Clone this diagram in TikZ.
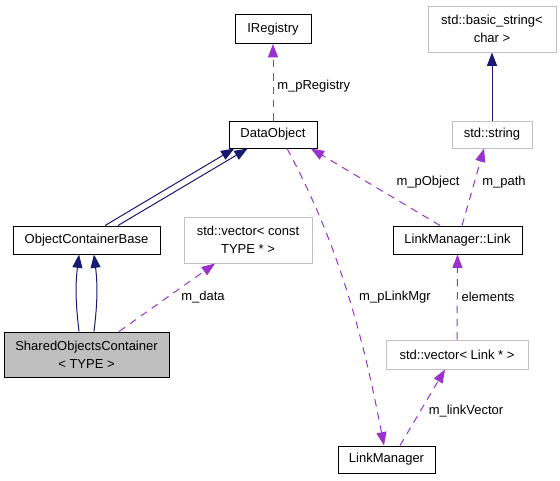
\documentclass[tikz,border=0pt]{standalone}
\usepackage{fontspec}
\setmainfont{Liberation Sans}
\usetikzlibrary{arrows.meta}
\definecolor{purp}{HTML}{9A32CD}
\definecolor{navyb}{HTML}{191970}
\definecolor{grayb}{HTML}{BFBFBF}
\tikzset{
  cls/.style={draw=black, fill=white, line width=0.75pt, inner sep=0pt, align=center,
    font=\fontsize{9.75}{13.5}\selectfont},
  ext/.style={cls, draw=grayb},
  mainc/.style={cls, fill=grayb},
  usage/.style={draw=purp, line width=0.75pt, dash pattern=on 5.5pt off 4.5pt,
    -{Triangle[length=10pt,width=7.5pt,fill=purp]}},
  inherit/.style={draw=navyb, line width=0.75pt,
    -{Triangle[length=10pt,width=7.5pt,fill=navyb]}},
  lbl/.style={inner sep=0pt, font=\fontsize{9.75}{13.5}\selectfont}
}
\begin{document}
\begin{tikzpicture}[x=0.75pt,y=-0.75pt]
\useasboundingbox (0,0) rectangle (560,480);
% nodes
\node[cls, minimum width=57pt, minimum height=21.75pt] (ireg) at (273,29) {IRegistry};
\node[cls, minimum width=66pt, minimum height=20.25pt] (dobj) at (273,134.5) {DataObject};
\node[ext, minimum width=96pt, minimum height=34.5pt] (bstr) at (492,29) {std::basic\_string<\\char >};
\node[ext, minimum width=60pt, minimum height=20.25pt] (sstr) at (492,134.5) {std::string};
\node[cls, minimum width=110.25pt, minimum height=21pt] (ocb) at (86.5,240) {ObjectContainerBase};
\node[ext, minimum width=96pt, minimum height=34.5pt] (vecc) at (248,240) {std::vector< const\\TYPE * >};
\node[mainc, minimum width=123.75pt, minimum height=33.75pt] (soc) at (86.5,354.5) {SharedObjectsContainer\\< TYPE >};
\node[cls, minimum width=96.75pt, minimum height=21pt] (link) at (457.5,240) {LinkManager::Link};
\node[ext, minimum width=106.5pt, minimum height=21.75pt] (vecl) at (457,354.5) {std::vector< Link * >};
\node[cls, minimum width=72.75pt, minimum height=20.25pt] (lm) at (386.5,459.5) {LinkManager};
% edges
\draw[usage] (dobj.north) -- (ireg.south);
\node[lbl, anchor=west] (lreg) at (277,86) {m\_pRegistry};

\draw[inherit] ([xshift=13.9pt]ocb.north) -- ([xshift=-29pt]dobj.south);
\draw[inherit] ([xshift=23.6pt]ocb.north) -- ([xshift=-19pt]dobj.south);

\draw[inherit] ([xshift=-5.6pt]soc.north) to[bend left=7] ([xshift=-5.6pt]ocb.south);
\draw[inherit] ([xshift=5.6pt]soc.north) to[bend right=7] ([xshift=5.6pt]ocb.south);

\draw[usage] ([xshift=24.4pt]soc.north) -- ([xshift=-24.75pt]vecc.south);
\node[lbl] (ldata) at (203,297) {m\_data};

\draw[usage] ([xshift=10.5pt]dobj.south) .. controls (341,248) and (365,346) .. ([xshift=-1.9pt]lm.north);
\node[lbl] (lmgr) at (395,297) {m\_pLinkMgr};

\draw[usage] ([xshift=-13.1pt]link.north) -- ([xshift=-5pt]dobj.south east);
\node[lbl] (lobj) at (428,182) {m\_pObject};

\draw[usage] ([xshift=3.4pt]link.north) -- ([xshift=-6pt]sstr.south);
\node[lbl] (lpath) at (504,182) {m\_path};

\draw[inherit] (sstr.north) -- (bstr.south);

\draw[usage] (vecl.north) -- (link.south);
\node[lbl] (lelem) at (488,297) {elements};

\draw[usage] ([xshift=10.1pt]lm.north) -- ([xshift=-9pt]vecl.south);
\node[lbl] (lvec) at (466,411) {m\_linkVector};
\end{tikzpicture}
\end{document}
